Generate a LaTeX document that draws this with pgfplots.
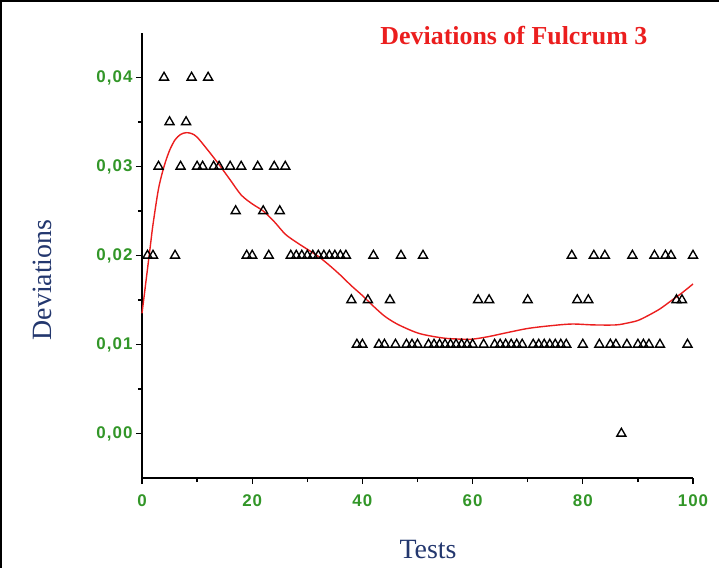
\documentclass[border=0pt]{standalone}
\usepackage{pgfplots}
\pgfplotsset{compat=1.18}
\usepackage{fontspec}
\setmainfont{Liberation Serif}
\newfontfamily\tickfont[LetterSpace=6]{Liberation Sans}
\definecolor{tickgreen}{RGB}{50,150,40}
\definecolor{labblue}{RGB}{35,55,110}
\definecolor{curvered}{RGB}{235,30,30}
\begin{document}
\begin{tikzpicture}
\useasboundingbox (-142bp,-90bp) rectangle (577bp,478bp);
\draw[line width=2.5bp,black] (-140.75bp,-91bp) -- (-140.75bp,476.75bp) -- (579bp,476.75bp);
\begin{axis}[
  at={(0,0)}, anchor=south west,
  width=551bp, height=445bp, scale only axis=true,
  xmin=0, xmax=100, ymin=-0.005, ymax=0.045,
  axis lines*=left,
  axis line style={-, line width=1.5bp, black},
  tick align=outside,
  major tick length=6bp, minor tick length=4bp,
  every tick/.style={black, line width=1.3bp},
  xtick={0,20,40,60,80,100},
  minor xtick={10,30,50,70,90},
  ytick={0,0.01,0.02,0.03,0.04},
  minor ytick={0.005,0.015,0.025,0.035},
  scaled y ticks=false,
  /pgf/number format/assume math mode=true,
  ticklabel style={font=\tickfont\bfseries\fontsize{17}{19}\selectfont, text=tickgreen},
  yticklabel style={/pgf/number format/.cd, fixed, fixed zerofill, precision=2, use comma},
  xticklabel style={yshift=-7bp},
  xlabel={Tests},
  ylabel={Deviations},
  label style={font=\fontsize{28}{32}\selectfont, text=labblue},
  xlabel style={at={(axis description cs:0.519,-0.16)}, anchor=center},
  ylabel style={at={(axis description cs:-0.1815,0.445)}, anchor=center},
  clip=false,
]
\addplot[only marks, mark=triangle, mark size=5.2bp, mark options={black, line width=1.35bp, fill=white}] coordinates {
(1,0.02)(2,0.02)(3,0.03)(4,0.04)(5,0.035)(6,0.02)(7,0.03)(8,0.035)(9,0.04)(10,0.03)
(11,0.03)(12,0.04)(13,0.03)(14,0.03)(16,0.03)(17,0.025)(18,0.03)(19,0.02)(20,0.02)
(21,0.03)(22,0.025)(23,0.02)(24,0.03)(25,0.025)(26,0.03)
(27,0.02)(28,0.02)(29,0.02)(30,0.02)(31,0.02)(32,0.02)(33,0.02)(34,0.02)(35,0.02)(36,0.02)(37,0.02)
(38,0.015)(39,0.01)(40,0.01)(41,0.015)(42,0.02)(43,0.01)(44,0.01)(45,0.015)(46,0.01)(47,0.02)
(48,0.01)(49,0.01)(50,0.01)(51,0.02)
(52,0.01)(53,0.01)(54,0.01)(55,0.01)(56,0.01)(57,0.01)(58,0.01)(59,0.01)(60,0.01)
(61,0.015)(62,0.01)(63,0.015)
(64,0.01)(65,0.01)(66,0.01)(67,0.01)(68,0.01)(69,0.01)(70,0.015)
(71,0.01)(72,0.01)(73,0.01)(74,0.01)(75,0.01)(76,0.01)(77,0.01)
(78,0.02)(79,0.015)(80,0.01)(81,0.015)(82,0.02)(83,0.01)(84,0.02)(85,0.01)(86,0.01)(87,0.0)
(88,0.01)(89,0.02)(90,0.01)(91,0.01)(92,0.01)(93,0.02)(94,0.01)(95,0.02)(96,0.02)
(97,0.015)(98,0.015)(99,0.01)(100,0.02)
};
\addplot[curvered, line width=1.4bp, smooth, no marks] coordinates {
(0,0.0135)(0.5,0.016)(1,0.0185)(1.5,0.021)(2,0.0235)(3,0.0275)(4,0.0300)(5,0.0318)
(6,0.0330)(7,0.0336)(8,0.0338)(9,0.0337)(10,0.0333)(12,0.0318)(14,0.0302)(16,0.0285)
(18,0.0268)(20,0.0258)(22,0.0250)(24,0.0238)(26,0.0224)(28,0.0215)(30,0.0207)(32,0.0199)
(34,0.0189)(36,0.0178)(38,0.0166)(40,0.0155)(42,0.0143)(44,0.0132)(46,0.0124)(48,0.0118)
(50,0.0113)(52,0.0110)(55,0.0107)(58,0.0106)(60,0.0106)(63,0.0109)(66,0.0113)(70,0.0118)
(74,0.0121)(78,0.0123)(82,0.0122)(86,0.0122)(88,0.0124)(90,0.0127)(92,0.0133)(94,0.0140)
(96,0.0149)(98,0.0158)(100,0.0168)
};
\node[font=\bfseries\fontsize{26}{30}\selectfont, text=curvered] at (axis description cs:0.675,0.995) {Deviations of Fulcrum 3};
\end{axis}
\end{tikzpicture}
\end{document}
